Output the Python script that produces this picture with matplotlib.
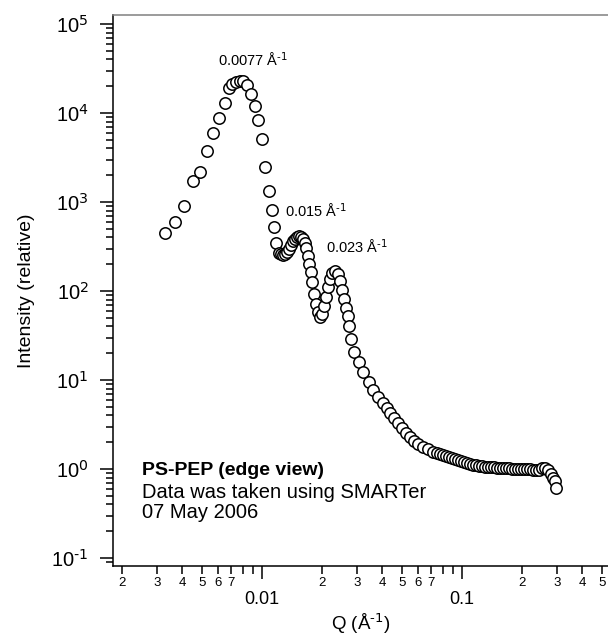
import matplotlib
matplotlib.use("Agg")
import matplotlib.pyplot as plt
from matplotlib.ticker import FixedLocator, FuncFormatter, LogLocator, NullFormatter

plt.rcParams["font.family"] = ["Liberation Sans", "DejaVu Sans"]
plt.rcParams["mathtext.default"] = "regular"
plt.rcParams["axes.unicode_minus"] = False

# scattering vector Q (1/A) and relative intensity
q = [0.00327, 0.00367, 0.00409, 0.0045, 0.0049, 0.00531, 0.00571, 0.0061, 0.00651, 0.00684,
     0.0071, 0.00741, 0.00776, 0.00806, 0.00839, 0.00881, 0.00923, 0.00952, 0.01003, 0.01035,
     0.01084, 0.01118, 0.01148, 0.01175, 0.01212,
     0.01245, 0.01274, 0.01303, 0.01334, 0.01365, 0.01396, 0.01429, 0.01462, 0.01496, 0.01531,
     0.01567, 0.01603, 0.0164, 0.0166, 0.01698, 0.01718, 0.01758,
     0.01778, 0.0182, 0.01862, 0.01905, 0.0195, 0.01995, 0.02042, 0.02089, 0.02138, 0.02188,
     0.02239, 0.02317, 0.02399, 0.02455, 0.02512, 0.0257, 0.0263, 0.02692, 0.02723, 0.02786,
     0.02884, 0.03055, 0.03199, 0.03428, 0.03589, 0.03802, 0.04027, 0.04217, 0.04365, 0.04571,
     0.04786, 0.05012, 0.05248, 0.05495, 0.05754, 0.06026, 0.06383, 0.06761, 0.07161, 0.07499,
     0.07762, 0.08035, 0.08318, 0.0861, 0.08913, 0.09226, 0.0955, 0.09886, 0.1023, 0.1059,
     0.1096, 0.1135, 0.1175, 0.1216, 0.1259, 0.1303, 0.1349, 0.1396, 0.1445, 0.1496,
     0.1549, 0.1603, 0.166, 0.1718, 0.1778, 0.1841, 0.1905, 0.1972, 0.2042, 0.2113,
     0.2188, 0.2265, 0.2344, 0.2427, 0.2512, 0.26, 0.2692, 0.2786, 0.2851, 0.2917, 0.2951]
intensity = [452, 601, 908, 1722, 2173, 3770, 6010, 8860, 12850, 18950,
             21000, 22300, 23100, 22900, 20650, 16350, 12000, 8340, 5140, 2495,
             1340, 813, 524, 349, 269,
             261, 254, 261, 274, 296, 329, 364, 384, 404, 415,
             404, 384, 346, 304, 247, 201, 163,
             126, 92.5, 71.4, 58.1, 51.0, 55.2, 67.8, 85.6, 110.9, 136.4,
             159.3, 167.8, 155.3, 129.5, 102.6, 81.3, 64.4, 52.4, 40.4, 28.9,
             20.6, 15.9, 12.3, 9.49, 7.72, 6.44, 5.52, 4.85, 4.26, 3.74,
             3.29, 2.89, 2.54, 2.29, 2.06, 1.91, 1.77, 1.68, 1.55, 1.51,
             1.474, 1.436, 1.40, 1.364, 1.329, 1.295, 1.262, 1.23, 1.198, 1.168,
             1.138, 1.109, 1.109, 1.081, 1.081, 1.053, 1.053, 1.053, 1.053, 1.026,
             1.026, 1.026, 1.026, 1.026, 1.0, 1.0, 1.0, 1.0, 1.0, 1.0,
             1.0, 0.974, 0.974, 0.974, 1.026, 1.026, 0.974, 0.879, 0.792, 0.733, 0.612]

x_major = [0.01, 0.1]
x_minor = [0.002, 0.003, 0.004, 0.005, 0.006, 0.007, 0.008, 0.009,
           0.02, 0.03, 0.04, 0.05, 0.06, 0.07, 0.08, 0.09,
           0.2, 0.3, 0.4, 0.5]
minor_labeled = [2, 3, 4, 5, 6, 7]
y_major = [1e-1, 1e0, 1e1, 1e2, 1e3, 1e4, 1e5]
y_exponents = ["-1", "0", "1", "2", "3", "4", "5"]

peak_labels = [r"0.0077 Å$^{\text{-1}}$", r"0.015 Å$^{\text{-1}}$", r"0.023 Å$^{\text{-1}}$"]
peak_label_q = [0.00603, 0.01303, 0.0209]
peak_label_i = [39400, 792, 312]

notes = ["PS-PEP (edge view)", "Data was taken using SMARTer", "07 May 2006"]

fig = plt.figure(figsize=(6.08, 6.36), dpi=100)
ax = fig.add_axes([113 / 608, 70 / 636, 495 / 608, 551 / 636])
ax.set_xscale("log")
ax.set_yscale("log")

ax.plot(q, intensity, linestyle="none", marker="o", markersize=8.2,
        markerfacecolor="white", markeredgecolor="black", markeredgewidth=1.1)

ax.set_xlim(0.0018, 0.537)
ax.set_ylim(0.0813, 1.262e5)

# x ticks: decades labelled low, minor 2..7 labelled small
ax.xaxis.set_major_locator(FixedLocator(x_major))
ax.xaxis.set_major_formatter(FuncFormatter(lambda v, p: "%g" % v))
ax.xaxis.set_minor_locator(FixedLocator(x_minor))


def minor_fmt(v, p):
    m = int(round(v / 10 ** int(f"{v:e}".split("e")[1])))
    return str(m) if m in minor_labeled else ""


ax.xaxis.set_minor_formatter(FuncFormatter(minor_fmt))
ax.tick_params(axis="x", which="major", direction="out", length=9.5, width=1.1,
               pad=8.5, labelsize=13)
ax.tick_params(axis="x", which="minor", direction="out", length=5.5, width=1.1,
               pad=2.5, labelsize=9.5)

ax.set_yticks(y_major)
ax.set_yticklabels([r"10$^{\text{%s}}$" % e for e in y_exponents])
ax.yaxis.set_minor_locator(LogLocator(base=10, subs=range(2, 10), numticks=20))
ax.yaxis.set_minor_formatter(NullFormatter())
ax.tick_params(axis="y", which="major", direction="out", length=9.5, width=1.1,
               pad=8, labelsize=14.5)
ax.tick_params(axis="y", which="minor", direction="out", length=5, width=1.1)
ax.set_ylim(0.0813, 1.262e5)

ax.spines["right"].set_visible(False)
ax.spines["top"].set_color("#808080")
for s in ["left", "bottom", "top"]:
    ax.spines[s].set_linewidth(1.1)

ax.set_xlabel(r"Q (Å$^{\text{-1}}$)", fontsize=13.5, labelpad=2)
ax.set_ylabel("Intensity (relative)", fontsize=14, labelpad=12)

for txt, xq, yi in zip(peak_labels, peak_label_q, peak_label_i):
    ax.text(xq, yi, txt, fontsize=10.5, ha="left", va="center")

ax.text(0.0586, 0.1742, notes[0], transform=ax.transAxes, fontsize=14,
        fontweight="bold", va="center", ha="left")
ax.text(0.0586, 0.1343, notes[1], transform=ax.transAxes, fontsize=14.5,
        va="center", ha="left")
ax.text(0.0586, 0.0962, notes[2], transform=ax.transAxes, fontsize=14.5,
        va="center", ha="left")

fig.savefig("out.png", dpi=100)
